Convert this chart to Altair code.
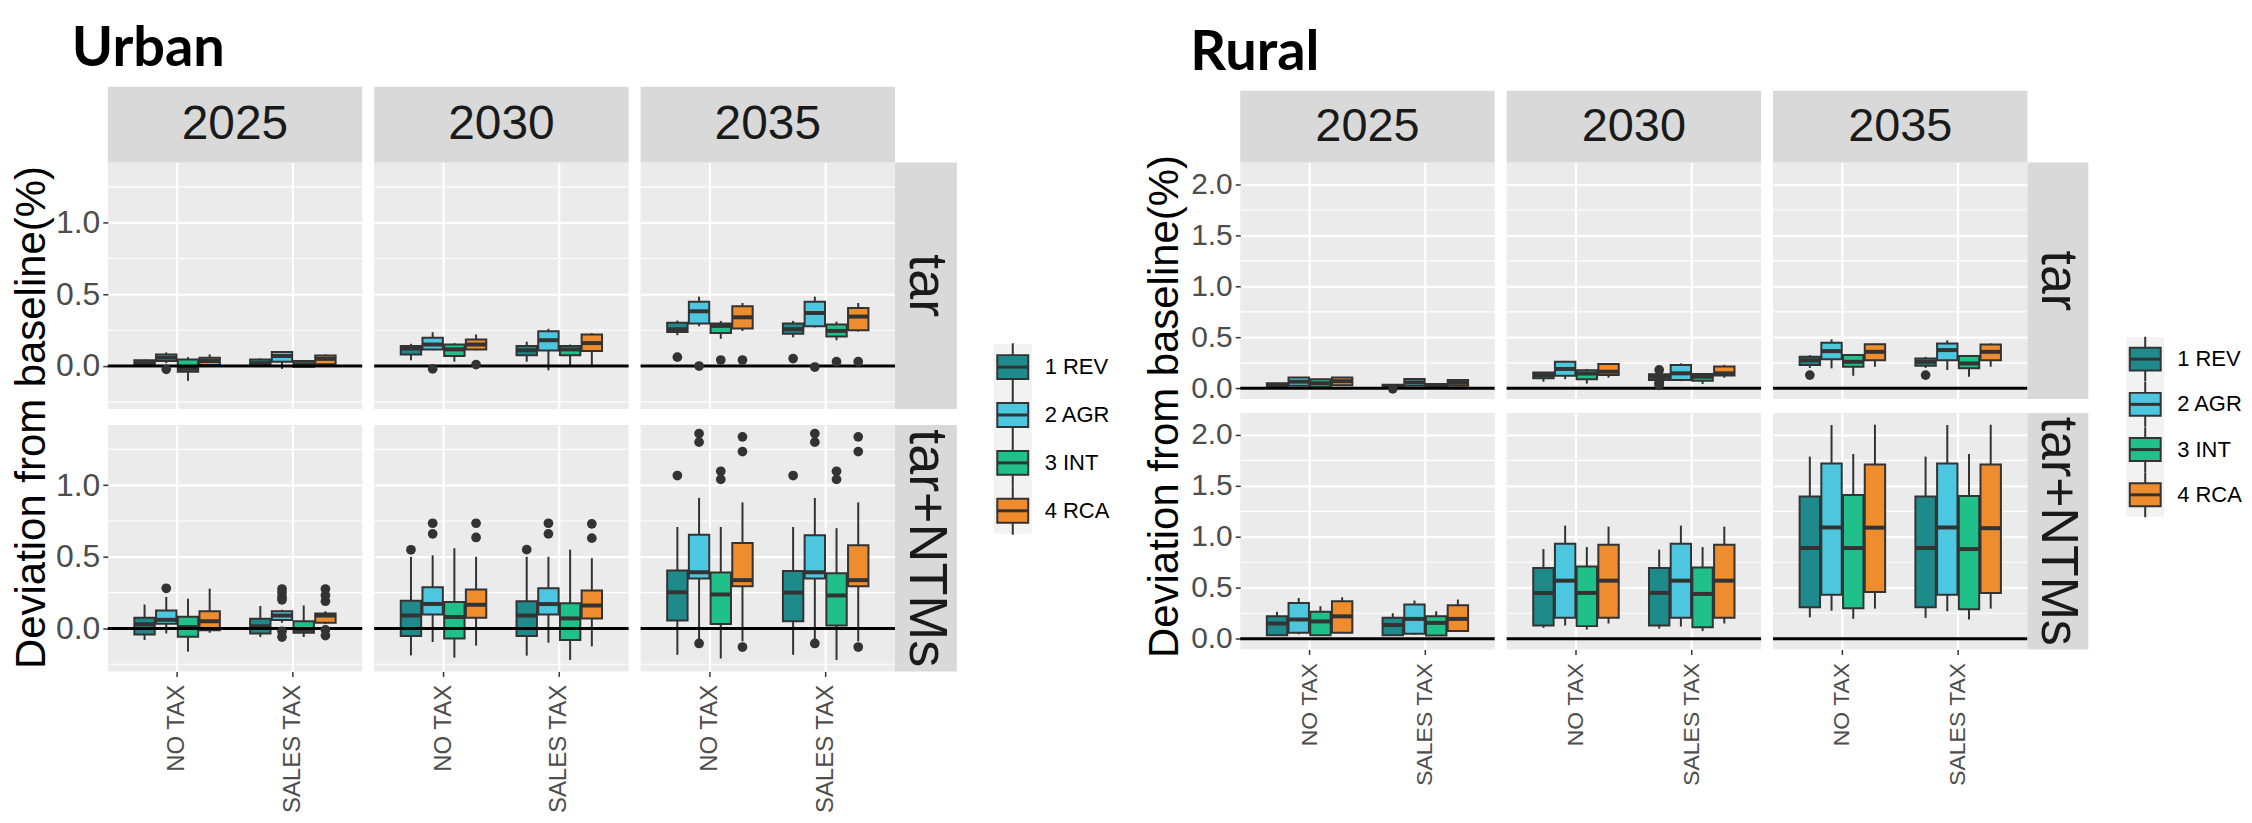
import altair as alt
import pandas as pd

GROUPS = ["1 REV", "2 AGR", "3 INT", "4 RCA"]
COLORS = ["#1f8a8c", "#4dc6df", "#1fc08a", "#ef8c2e"]
TAXES = ["NO TAX", "SALES TAX"]
YEARS = ["2025", "2030", "2035"]
ROW_LABELS = ["tar", "tar+NTMs"]
REGIONS = ["Urban", "Rural"]
Y_TITLE = "Deviation from baseline(%)"

# Box summaries: [lower whisker, Q1, median, Q3, upper whisker] for 1 REV, 2 AGR, 3 INT, 4 RCA
# ---------------- Urban, tar ----------------
U_TAR_2025_NT = [[-0.005, 0.0, 0.02, 0.04, 0.046], [0.02, 0.035, 0.058, 0.081, 0.095],
                 [-0.104, -0.04, -0.02, 0.046, 0.062], [0.0, 0.007, 0.035, 0.058, 0.081]]
U_TAR_2025_ST = [[-0.005, 0.0, 0.02, 0.046, 0.053], [-0.02, 0.03, 0.07, 0.097, 0.104],
                 [-0.01, -0.005, 0.012, 0.035, 0.04], [0.0, 0.012, 0.05, 0.074, 0.081]]
U_TAR_2025_OUT = [("NO TAX", "2 AGR", -0.023)]
U_TAR_2030_NT = [[0.04, 0.081, 0.123, 0.139, 0.155], [0.11, 0.116, 0.15, 0.197, 0.236],
                 [0.03, 0.07, 0.116, 0.15, 0.16], [0.11, 0.116, 0.15, 0.185, 0.22]]
U_TAR_2030_ST = [[0.03, 0.076, 0.11, 0.139, 0.17], [-0.03, 0.109, 0.18, 0.243, 0.26],
                 [0.0, 0.076, 0.116, 0.139, 0.15], [0.0, 0.104, 0.16, 0.22, 0.23]]
U_TAR_2030_OUT = [("NO TAX", "2 AGR", -0.02), ("NO TAX", "4 RCA", 0.01)]
U_TAR_2035_NT = [[0.215, 0.237, 0.257, 0.302, 0.317], [0.278, 0.297, 0.382, 0.448, 0.484],
                 [0.19, 0.23, 0.28, 0.297, 0.315], [0.245, 0.262, 0.34, 0.417, 0.44]]
U_TAR_2035_ST = [[0.2, 0.226, 0.257, 0.297, 0.315], [0.27, 0.278, 0.37, 0.448, 0.484],
                 [0.18, 0.206, 0.245, 0.29, 0.31], [0.24, 0.25, 0.345, 0.405, 0.44]]
U_TAR_2035_OUT = [("NO TAX", "1 REV", 0.062), ("NO TAX", "2 AGR", 0.0), ("NO TAX", "3 INT", 0.042),
                  ("NO TAX", "4 RCA", 0.042), ("SALES TAX", "1 REV", 0.052), ("SALES TAX", "2 AGR", -0.007),
                  ("SALES TAX", "3 INT", 0.03), ("SALES TAX", "4 RCA", 0.03)]
# ---------------- Urban, tar+NTMs ----------------
U_NTM_2025_NT = [[-0.081, -0.042, 0.03, 0.074, 0.167], [-0.035, 0.032, 0.06, 0.125, 0.22],
                 [-0.162, -0.058, 0.01, 0.081, 0.208], [-0.03, -0.012, 0.05, 0.12, 0.278]]
U_NTM_2025_ST = [[-0.06, -0.035, 0.015, 0.067, 0.157], [0.04, 0.058, 0.09, 0.12, 0.13],
                 [-0.06, -0.03, -0.01, 0.05, 0.16], [0.03, 0.04, 0.09, 0.105, 0.12]]
U_NTM_2025_OUT = [("NO TAX", "2 AGR", 0.28), ("SALES TAX", "2 AGR", 0.275), ("SALES TAX", "2 AGR", 0.25),
                  ("SALES TAX", "2 AGR", 0.22), ("SALES TAX", "2 AGR", 0.20), ("SALES TAX", "2 AGR", -0.02),
                  ("SALES TAX", "2 AGR", -0.06), ("SALES TAX", "4 RCA", 0.275), ("SALES TAX", "4 RCA", 0.23),
                  ("SALES TAX", "4 RCA", 0.19), ("SALES TAX", "4 RCA", -0.01), ("SALES TAX", "4 RCA", -0.05)]
U_NTM_2030_NT = [[-0.188, -0.053, 0.09, 0.194, 0.5], [-0.095, 0.097, 0.171, 0.287, 0.51],
                 [-0.204, -0.07, 0.08, 0.185, 0.56], [-0.12, 0.074, 0.165, 0.271, 0.5]]
U_NTM_2030_ST = [[-0.19, -0.053, 0.09, 0.19, 0.5], [-0.1, 0.097, 0.17, 0.28, 0.5],
                 [-0.22, -0.08, 0.07, 0.176, 0.55], [-0.125, 0.07, 0.16, 0.264, 0.49]]
U_NTM_2030_OUT = [("NO TAX", "1 REV", 0.549), ("NO TAX", "2 AGR", 0.734), ("NO TAX", "2 AGR", 0.66),
                  ("NO TAX", "4 RCA", 0.734), ("NO TAX", "4 RCA", 0.635), ("SALES TAX", "1 REV", 0.55),
                  ("SALES TAX", "2 AGR", 0.734), ("SALES TAX", "2 AGR", 0.66), ("SALES TAX", "4 RCA", 0.73),
                  ("SALES TAX", "4 RCA", 0.63)]
U_NTM_2035_NT = [[-0.184, 0.055, 0.253, 0.404, 0.708], [-0.08, 0.349, 0.392, 0.653, 0.911],
                 [-0.21, 0.031, 0.237, 0.39, 0.708], [-0.09, 0.294, 0.337, 0.597, 0.88]]
U_NTM_2035_ST = [[-0.184, 0.05, 0.25, 0.40, 0.708], [-0.08, 0.349, 0.392, 0.65, 0.911],
                 [-0.22, 0.02, 0.23, 0.385, 0.70], [-0.09, 0.294, 0.337, 0.58, 0.88]]
U_NTM_2035_OUT = [("NO TAX", "1 REV", 1.067), ("NO TAX", "2 AGR", 1.36), ("NO TAX", "2 AGR", 1.30),
                  ("NO TAX", "2 AGR", -0.105), ("NO TAX", "3 INT", 1.097), ("NO TAX", "3 INT", 1.04),
                  ("NO TAX", "4 RCA", 1.337), ("NO TAX", "4 RCA", 1.234), ("NO TAX", "4 RCA", -0.13),
                  ("SALES TAX", "1 REV", 1.067), ("SALES TAX", "2 AGR", 1.36), ("SALES TAX", "2 AGR", 1.30),
                  ("SALES TAX", "2 AGR", -0.105), ("SALES TAX", "3 INT", 1.097), ("SALES TAX", "3 INT", 1.04),
                  ("SALES TAX", "4 RCA", 1.337), ("SALES TAX", "4 RCA", 1.234), ("SALES TAX", "4 RCA", -0.13)]
# ---------------- Rural, tar ----------------
R_TAR_2025_NT = [[0.0, 0.006, 0.025, 0.049, 0.055], [0.02, 0.026, 0.065, 0.107, 0.112],
                 [0.005, 0.01, 0.049, 0.088, 0.095], [0.025, 0.03, 0.07, 0.107, 0.112]]
R_TAR_2025_ST = [[0.01, 0.012, 0.02, 0.035, 0.04], [0.02, 0.026, 0.058, 0.091, 0.1],
                 [0.0, 0.003, 0.023, 0.042, 0.048], [0.02, 0.026, 0.055, 0.081, 0.088]]
R_TAR_2025_OUT = [("SALES TAX", "1 REV", -0.005)]
R_TAR_2030_NT = [[0.065, 0.098, 0.13, 0.156, 0.16], [0.09, 0.123, 0.19, 0.26, 0.27],
                 [0.046, 0.088, 0.145, 0.177, 0.19], [0.104, 0.13, 0.163, 0.238, 0.245]]
R_TAR_2030_ST = [[0.075, 0.081, 0.114, 0.137, 0.145], [0.07, 0.081, 0.147, 0.228, 0.245],
                 [0.042, 0.075, 0.114, 0.14, 0.15], [0.104, 0.127, 0.147, 0.215, 0.23]]
R_TAR_2030_OUT = [("SALES TAX", "1 REV", 0.18), ("SALES TAX", "1 REV", 0.06),
                  ("SALES TAX", "1 REV", 0.045), ("SALES TAX", "1 REV", 0.03)]
R_TAR_2035_NT = [[0.2, 0.228, 0.276, 0.309, 0.326], [0.196, 0.286, 0.365, 0.446, 0.48],
                 [0.123, 0.212, 0.26, 0.326, 0.33], [0.212, 0.276, 0.358, 0.433, 0.44]]
R_TAR_2035_ST = [[0.2, 0.221, 0.26, 0.293, 0.309], [0.18, 0.276, 0.375, 0.44, 0.47],
                 [0.114, 0.196, 0.244, 0.316, 0.32], [0.212, 0.276, 0.358, 0.43, 0.44]]
R_TAR_2035_OUT = [("NO TAX", "1 REV", 0.13), ("SALES TAX", "1 REV", 0.13)]
# ---------------- Rural, tar+NTMs ----------------
R_NTM_2025_NT = [[0.03, 0.035, 0.15, 0.221, 0.264], [0.044, 0.059, 0.189, 0.352, 0.40],
                 [0.03, 0.035, 0.17, 0.264, 0.32], [0.059, 0.059, 0.22, 0.368, 0.407]]
R_NTM_2025_ST = [[0.03, 0.035, 0.135, 0.205, 0.25], [0.04, 0.049, 0.195, 0.335, 0.375],
                 [0.03, 0.032, 0.156, 0.221, 0.27], [0.075, 0.075, 0.195, 0.329, 0.385]]
R_NTM_2025_OUT = []
R_NTM_2030_NT = [[0.107, 0.13, 0.45, 0.695, 0.88], [0.13, 0.205, 0.57, 0.933, 1.11],
                 [0.09, 0.124, 0.45, 0.71, 0.90], [0.15, 0.205, 0.57, 0.923, 1.10]]
R_NTM_2030_ST = [[0.10, 0.13, 0.45, 0.695, 0.875], [0.12, 0.205, 0.57, 0.933, 1.11],
                 [0.075, 0.114, 0.44, 0.70, 0.90], [0.15, 0.205, 0.57, 0.923, 1.10]]
R_NTM_2030_OUT = []
R_NTM_2035_NT = [[0.21, 0.31, 0.89, 1.395, 1.787], [0.276, 0.433, 1.092, 1.72, 2.097],
                 [0.196, 0.30, 0.89, 1.41, 1.813], [0.296, 0.459, 1.09, 1.71, 2.10]]
R_NTM_2035_ST = [[0.205, 0.31, 0.89, 1.395, 1.787], [0.27, 0.433, 1.092, 1.72, 2.097],
                 [0.19, 0.29, 0.88, 1.40, 1.813], [0.296, 0.45, 1.085, 1.71, 2.10]]
R_NTM_2035_OUT = []

SANS = "'Liberation Sans', Arial, Helvetica, sans-serif"
DARK = "#333333"

URBAN = dict(pw=255, ph=247, st=76, rs=62, gap=16, ydom=[-0.30, 1.42], yvals=[0.0, 0.5, 1.0],
             minor=[-0.25, 0.25, 0.75, 1.25], ylab=32, xlab=24, strip=48, rstrip=54,
             ytx=-63, yty=-8, lbg=(182, 372), lrange=[205, 349], ksize=2304,
             kpath="M-0.646,-0.5H0.646V0.5H-0.646Z M0,-0.5V-1 M0,0.5V1",
             kmed="M-0.646,0H0.646", tdx=-36, tdy=-141)
RURAL = dict(pw=255, ph=237, st=72, rs=61, gap=14, ydom=[-0.105, 2.215], yvals=[0.0, 0.5, 1.0, 1.5, 2.0],
             minor=[0.25, 0.75, 1.25, 1.75], ylab=30, xlab=23, strip=47, rstrip=52,
             ytx=-63, yty=-7, lbg=(175, 355), lrange=[197, 333], ksize=2025,
             kpath="M-0.689,-0.511H0.689V0.511H-0.689Z M0,-0.511V-1 M0,0.511V1",
             kmed="M-0.689,0H0.689", tdx=-50, tdy=-137)


def box_frame(nt, st):
    rows = []
    for tax, stats in (("NO TAX", nt), ("SALES TAX", st)):
        for g, s in zip(GROUPS, stats):
            rows.append(dict(tax=tax, group=g, lo=s[0], q1=s[1], med=s[2], q3=s[3], hi=s[4]))
    return pd.DataFrame(rows)


def out_frame(lst):
    return pd.DataFrame(lst, columns=["tax", "group", "v"])


def panel(cfg, region, nt, st, outl, year, row, col):
    pw, ph = cfg["pw"], cfg["ph"]
    yscale = alt.Scale(domain=cfg["ydom"], nice=False, zero=False)
    xscale = alt.Scale(domain=TAXES, paddingInner=0.25, paddingOuter=0.224)
    oscale = alt.Scale(domain=GROUPS, paddingInner=0.06, paddingOuter=0.03)
    cscale = alt.Scale(domain=GROUPS, range=COLORS)
    grid_kw = dict(grid=True, gridColor="white", gridWidth=2.2, domain=False)

    ytitle = None
    if col == 0:
        ykw = dict(values=cfg["yvals"], format=".1f", labelFont=SANS, labelFontSize=cfg["ylab"],
                   labelColor="#4d4d4d", ticks=True, tickColor=DARK, tickSize=5, tickWidth=1.5,
                   labelPadding=3, **grid_kw)
        if row == 1:
            ytitle = Y_TITLE
            ykw.update(titleFont=SANS, titleFontSize=42, titleFontWeight="normal", titleColor="black",
                       titleAngle=270, titleX=cfg["ytx"], titleY=cfg["yty"], titleAlign="center",
                       titleBaseline="alphabetic")
    else:
        ykw = dict(values=cfg["yvals"], labels=False, ticks=False, **grid_kw)
    yaxis = alt.Axis(**ykw)

    if row == 1:
        xaxis = alt.Axis(labelAngle=270, labelFont=SANS, labelFontSize=cfg["xlab"], labelColor="#4d4d4d",
                         ticks=True, tickColor=DARK, tickSize=5, tickWidth=1.5, labelPadding=8,
                         bandPosition=0.5, **grid_kw)
    else:
        xaxis = alt.Axis(labels=False, ticks=False, bandPosition=0.5, **grid_kw)

    X = alt.X("tax:N", scale=xscale, axis=xaxis, title=None)
    XO = alt.XOffset("group:N", scale=oscale)

    def Y(f):
        return alt.Y(f, scale=yscale, axis=yaxis, title=ytitle)

    bx = box_frame(nt, st)
    base = alt.Chart(bx)
    minor = alt.Chart(pd.DataFrame({"v": cfg["minor"]})).mark_rule(color="white", strokeWidth=1.1).encode(
        y=Y("v:Q"))
    whisk = base.mark_rule(color=DARK, strokeWidth=2).encode(x=X, xOffset=XO, y=Y("lo:Q"), y2="hi:Q")
    box = base.mark_bar(stroke=DARK, strokeWidth=2).encode(
        x=X, xOffset=XO, y=Y("q1:Q"), y2="q3:Q",
        color=alt.Color("group:N", scale=cscale, legend=None))
    med = base.mark_tick(color=DARK, thickness=4, size=20, opacity=1).encode(x=X, xOffset=XO, y=Y("med:Q"))
    zero = alt.Chart(pd.DataFrame({"v": [0.0]})).mark_rule(color="black", strokeWidth=3).encode(y=Y("v:Q"))
    pts = alt.Chart(out_frame(outl)).mark_circle(size=95, color=DARK, opacity=1).encode(
        x=X, xOffset=XO, y=Y("v:Q"))
    layers = [minor, whisk, box, med, zero, pts]

    if row == 0:
        sdf = pd.DataFrame({"lab": [year]})
        layers.append(alt.Chart(sdf).mark_rect(color="#d9d9d9").encode(
            x=alt.value(0), x2=alt.value(pw), y=alt.value(-cfg["st"]), y2=alt.value(0)))
        layers.append(alt.Chart(sdf).mark_text(font=SANS, fontSize=cfg["strip"], color="#1a1a1a",
                                               baseline="middle", align="center").encode(
            x=alt.value(pw / 2), y=alt.value(-cfg["st"] / 2), text="lab:N"))
        if col == 0:
            tdf = pd.DataFrame({"lab": [region]})
            layers.append(alt.Chart(tdf).mark_text(font="Lato", fontSize=56, fontWeight="bold", color="black",
                                                   baseline="top", align="left").encode(
                x=alt.value(cfg["tdx"]), y=alt.value(cfg["tdy"]), text="lab:N"))
    if col == 2:
        rdf = pd.DataFrame({"lab": [ROW_LABELS[row]]})
        layers.append(alt.Chart(rdf).mark_rect(color="#d9d9d9").encode(
            x=alt.value(pw), x2=alt.value(pw + cfg["rs"]), y=alt.value(0), y2=alt.value(ph)))
        layers.append(alt.Chart(rdf).mark_text(font=SANS, fontSize=cfg["rstrip"], color="#1a1a1a",
                                               baseline="middle", align="center", angle=90).encode(
            x=alt.value(pw + cfg["rs"] / 2), y=alt.value(ph / 2), text="lab:N"))

    return alt.layer(*layers).properties(width=pw, height=ph,
                                         view=alt.ViewBackground(fill="#ebebeb", stroke="transparent"))


def legend(cfg):
    ldf = pd.DataFrame({"group": GROUPS})
    cscale = alt.Scale(domain=GROUPS, range=COLORS)
    yl = alt.Y("group:N", scale=alt.Scale(type="point", domain=GROUPS, range=cfg["lrange"], padding=0),
               axis=None)
    bg = alt.Chart(pd.DataFrame({"k": [0]})).mark_rect(color="#f2f2f2").encode(
        x=alt.value(87), x2=alt.value(125), y=alt.value(cfg["lbg"][0]), y2=alt.value(cfg["lbg"][1]))
    keys = alt.Chart(ldf).mark_point(shape=cfg["kpath"], size=cfg["ksize"], filled=True, stroke=DARK,
                                     strokeWidth=2, opacity=1).encode(
        x=alt.value(106), y=yl, fill=alt.Fill("group:N", scale=cscale, legend=None))
    medk = alt.Chart(ldf).mark_point(shape=cfg["kmed"], size=cfg["ksize"], filled=False, stroke=DARK,
                                     strokeWidth=3, opacity=1).encode(x=alt.value(106), y=yl)
    labs = alt.Chart(ldf).mark_text(align="left", baseline="middle", font=SANS, fontSize=22,
                                    color="black").encode(x=alt.value(138), y=yl, text="group:N")
    return alt.layer(bg, keys, medk, labs).properties(
        width=200, height=cfg["ph"], view=alt.ViewBackground(fill="transparent", stroke="transparent"))


def block(cfg, region, tar, ntm):
    cells = [panel(cfg, region, nt, st, o, YEARS[i], 0, i) for i, (nt, st, o) in enumerate(tar)]
    cells.append(legend(cfg))
    cells += [panel(cfg, region, nt, st, o, YEARS[i], 1, i) for i, (nt, st, o) in enumerate(ntm)]
    return alt.concat(*cells, columns=4, spacing={"row": cfg["gap"], "column": 12}, bounds="flush")


urban = block(URBAN, REGIONS[0],
              [(U_TAR_2025_NT, U_TAR_2025_ST, U_TAR_2025_OUT), (U_TAR_2030_NT, U_TAR_2030_ST, U_TAR_2030_OUT),
               (U_TAR_2035_NT, U_TAR_2035_ST, U_TAR_2035_OUT)],
              [(U_NTM_2025_NT, U_NTM_2025_ST, U_NTM_2025_OUT), (U_NTM_2030_NT, U_NTM_2030_ST, U_NTM_2030_OUT),
               (U_NTM_2035_NT, U_NTM_2035_ST, U_NTM_2035_OUT)])
rural = block(RURAL, REGIONS[1],
              [(R_TAR_2025_NT, R_TAR_2025_ST, R_TAR_2025_OUT), (R_TAR_2030_NT, R_TAR_2030_ST, R_TAR_2030_OUT),
               (R_TAR_2035_NT, R_TAR_2035_ST, R_TAR_2035_OUT)],
              [(R_NTM_2025_NT, R_NTM_2025_ST, R_NTM_2025_OUT), (R_NTM_2030_NT, R_NTM_2030_ST, R_NTM_2030_OUT),
               (R_NTM_2035_NT, R_NTM_2035_ST, R_NTM_2035_OUT)])

chart = alt.hconcat(urban, rural, spacing=31).properties(
    padding={"left": 2, "top": 12, "right": 0, "bottom": 0}, background="white"
).configure_view(strokeWidth=0)

chart.save("out.html", embed_options={"renderer": "svg", "actions": False})
